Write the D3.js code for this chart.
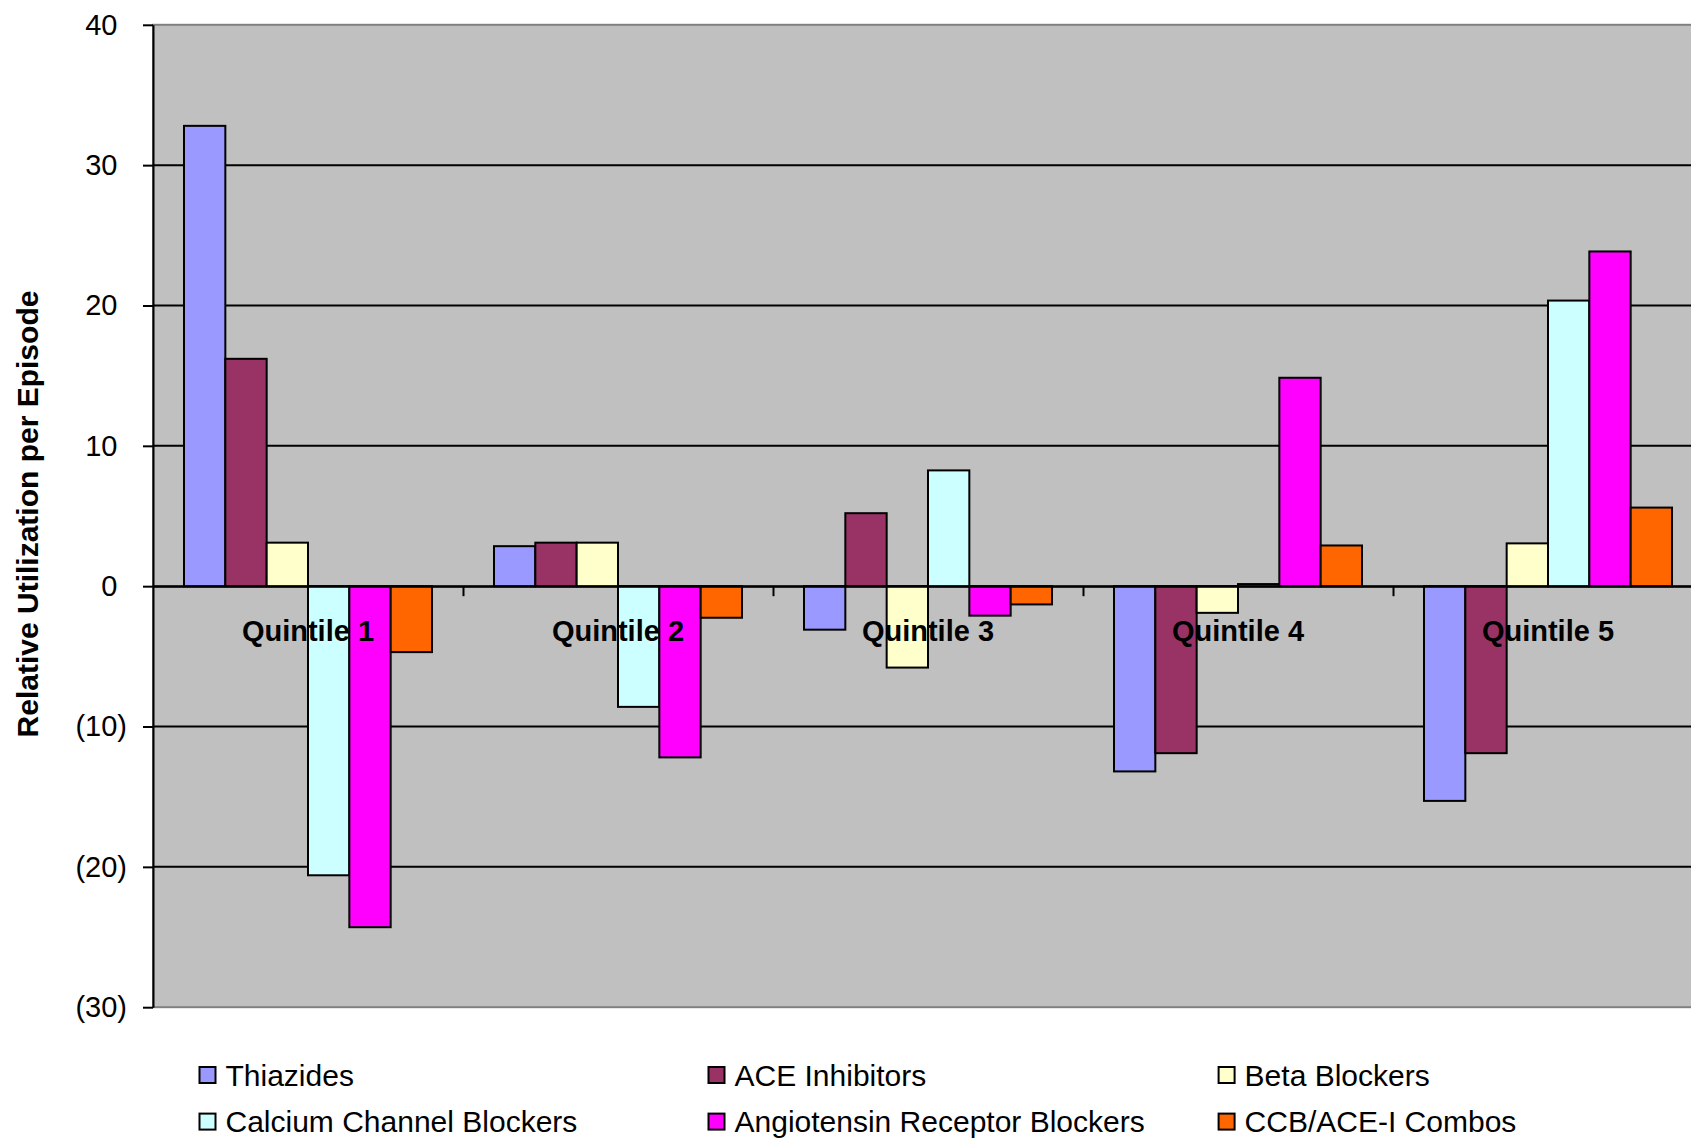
<!DOCTYPE html>
<html>
<head>
<meta charset="utf-8">
<script src="https://cdn.jsdelivr.net/npm/d3@7/dist/d3.min.js"></script>
<style>
  html, body { margin: 0; padding: 0; background: #ffffff; }
  svg { display: block; font-family: Arial, "Liberation Sans", sans-serif; }
</style>
</head>
<body>
<div id="chart"></div>
<script>
// Categories along the x axis
const quintiles = ["Quintile 1", "Quintile 2", "Quintile 3", "Quintile 4", "Quintile 5"];

// Series names (legend order)
const seriesNames = ["Thiazides", "ACE Inhibitors", "Beta Blockers",
                     "Calcium Channel Blockers", "Angiotensin Receptor Blockers", "CCB/ACE-I Combos"];

// Values, one array per series
const thiazides              = [32.8, 2.85, -3.1, -13.2, -15.3];
const aceInhibitors          = [16.2, 3.1, 5.2, -11.9, -11.9];
const betaBlockers           = [3.1, 3.1, -5.8, -1.9, 3.05];
const calciumChannelBlockers = [-20.6, -8.6, 8.25, 0.15, 20.35];
const angiotensinBlockers    = [-24.3, -12.2, -2.1, 14.85, 23.85];
const ccbAceCombos           = [-4.7, -2.25, -1.3, 2.9, 5.6];

// y axis ticks
const yTicks = [40, 30, 20, 10, 0, -10, -20, -30];

const seriesColors = ["#9999ff", "#993366", "#ffffcc", "#ccffff", "#ff00ff", "#ff6600"];

function drawChart()
{
    const width = 1691, height = 1139;
    const plot = { left: 153, right: 1703, top: 24.8, bottom: 1007.2 };

    const seriesValues = [thiazides, aceInhibitors, betaBlockers,
                          calciumChannelBlockers, angiotensinBlockers, ccbAceCombos];

    // build a flat table of bars from the arrays above
    const bars = [];
    quintiles.forEach((q, qi) => {
        seriesNames.forEach((s, si) => {
            bars.push({ quintile: q, series: s, value: seriesValues[si][qi] });
        });
    });

    const color = d3.scaleOrdinal().domain(seriesNames).range(seriesColors);

    const x0 = d3.scaleBand().domain(quintiles).range([plot.left, plot.right]).padding(0);
    // Excel style gap width of 150%: half of the gap on each side of the group
    const x1 = d3.scaleBand().domain(seriesNames).range([0, x0.bandwidth()])
        .paddingInner(0).paddingOuter(0.75);
    const y = d3.scaleLinear().domain([-30, 40]).range([plot.bottom, plot.top]);

    const svg = d3.select("#chart").append("svg")
        .attr("width", width)
        .attr("height", height)
        .attr("viewBox", [0, 0, width, height]);

    svg.append("rect").attr("width", width).attr("height", height).attr("fill", "#ffffff");

    // plot background
    svg.append("rect")
        .attr("x", plot.left)
        .attr("y", y(40))
        .attr("width", plot.right - plot.left)
        .attr("height", y(-30) - y(40))
        .attr("fill", "#c0c0c0")
        .attr("stroke", "#808080")
        .attr("stroke-width", 2);

    // gridlines
    svg.append("g")
        .selectAll("line")
        .data(yTicks.filter(t => t !== 40 && t !== -30))
        .join("line")
        .attr("x1", plot.left)
        .attr("x2", plot.right)
        .attr("y1", d => y(d))
        .attr("y2", d => y(d))
        .attr("stroke", "#000000")
        .attr("stroke-width", 2);

    // bars
    svg.append("g")
        .selectAll("rect")
        .data(bars)
        .join("rect")
        .attr("x", d => x0(d.quintile) + x1(d.series))
        .attr("y", d => y(Math.max(0, d.value)))
        .attr("width", x1.bandwidth())
        .attr("height", d => Math.abs(y(d.value) - y(0)))
        .attr("fill", d => color(d.series))
        .attr("stroke", "#000000")
        .attr("stroke-width", 2);

    // category axis along zero, ticks between groups
    const idx = d3.scaleLinear().domain([0, quintiles.length]).range([plot.left, plot.right]);
    const xAxis = svg.append("g")
        .attr("transform", `translate(0,${y(0)})`)
        .call(d3.axisBottom(idx).tickValues([1, 2, 3, 4]).tickFormat("").tickSize(10).tickSizeOuter(0));
    xAxis.select(".domain").attr("stroke", "#000000").attr("stroke-width", 2);
    xAxis.selectAll(".tick line").attr("stroke", "#000000").attr("stroke-width", 2);

    // y axis
    const yAxis = svg.append("g")
        .attr("transform", `translate(${plot.left},0)`)
        .call(d3.axisLeft(y)
            .tickValues(yTicks)
            .tickSize(10)
            .tickSizeOuter(0)
            .tickPadding(16)
            .tickFormat(d => d < 0 ? `(${Math.abs(d)})` : `${d}`));
    yAxis.select(".domain").attr("stroke", "#000000").attr("stroke-width", 2);
    yAxis.selectAll(".tick line").attr("stroke", "#000000").attr("stroke-width", 2);
    yAxis.selectAll(".tick text")
        .attr("fill", "#000000")
        .style("font-size", "29px")
        .style("font-family", "Arial, 'Liberation Sans', sans-serif")
        .attr("dx", d => d < 0 ? 0 : -9.6);

    // quintile labels
    svg.append("g")
        .selectAll("text")
        .data(quintiles)
        .join("text")
        .attr("x", d => x0(d) + x0.bandwidth() / 2)
        .attr("y", y(0) + 55)
        .attr("text-anchor", "middle")
        .style("font-size", "29px")
        .style("font-weight", "bold")
        .attr("fill", "#000000")
        .text(d => d);

    // y axis title
    svg.append("text")
        .attr("transform", "translate(38,514) rotate(-90)")
        .attr("text-anchor", "middle")
        .style("font-size", "30px")
        .style("font-weight", "bold")
        .attr("fill", "#000000")
        .text("Relative Utilization per Episode");

    // legend: 3 columns, 2 rows
    const legendCols = [199.5, 708.5, 1218.6];
    const legendRows = [1075, 1121.6];
    const legend = svg.append("g")
        .selectAll("g")
        .data(seriesNames)
        .join("g")
        .attr("transform", (d, i) => `translate(${legendCols[i % 3]},${legendRows[Math.floor(i / 3)]})`);

    legend.append("rect")
        .attr("x", 0)
        .attr("y", -8)
        .attr("width", 16)
        .attr("height", 16)
        .attr("fill", d => color(d))
        .attr("stroke", "#000000")
        .attr("stroke-width", 2);

    legend.append("text")
        .attr("x", 26)
        .attr("y", 0)
        .attr("dy", "0.35em")
        .style("font-size", "30px")
        .attr("fill", "#000000")
        .text(d => d);
}

drawChart();
</script>
</body>
</html>
